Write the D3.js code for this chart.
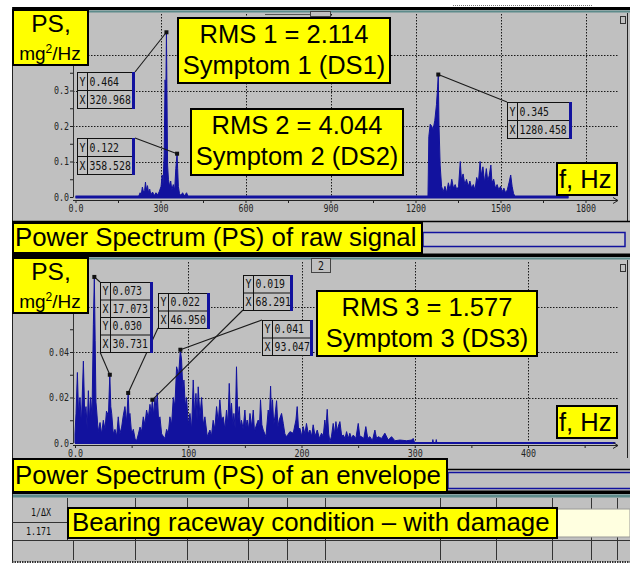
<!DOCTYPE html>
<html>
<head>
<meta charset="utf-8">
<title>Power spectrum</title>
<script src="https://cdn.jsdelivr.net/npm/d3@7"></script>
<style>
  body { margin: 0; background: #fff; }
  svg text { font-family: "Liberation Sans", Arial, sans-serif; }
  svg text.mono { font-family: "DejaVu Sans Mono", monospace; }
</style>
</head>
<body>
<svg id="chart" width="630" height="565"></svg>
<script>
// ---- data ----
// raw signal spectrum (Hz, mg^2/Hz)
var rawFreq = [0, 222, 228, 232, 236, 240, 244, 247, 250, 254,
  258, 262, 266, 272, 278, 284, 290, 296, 302, 306,
  309, 313, 316, 319, 320.968, 322.5, 325, 328, 332, 336,
  340, 345, 350, 354, 356, 358.528, 360.5, 363, 367, 372,
  378, 384, 392, 398, 1244, 1247, 1252, 1257, 1262, 1268,
  1274, 1278, 1280.458, 1283, 1287, 1292, 1298, 1304, 1310, 1316,
  1322, 1328, 1334, 1340, 1346, 1352, 1358, 1362, 1368, 1374,
  1380, 1386, 1392, 1398, 1404, 1410, 1416, 1422, 1428, 1432,
  1438, 1444, 1450, 1455, 1460, 1466, 1470, 1476, 1482, 1488,
  1494, 1500, 1506, 1512, 1518, 1524, 1530, 1536, 1541, 1546,
  1552, 1740];
var rawPS = [0, 0, 0.012, 0.006, 0.028, 0.014, 0.018, 0.042, 0.020, 0.032,
  0.012, 0.022, 0.006, 0.014, 0.004, 0.012, 0.006, 0.016, 0.030, 0.062,
  0.035, 0.120, 0.330, 0.300, 0.464, 0.320, 0.090, 0.050, 0.030, 0.045,
  0.020, 0.035, 0.020, 0.080, 0.100, 0.122, 0.080, 0.030, 0.010, 0.004,
  0.012, 0.003, 0.012, 0, 0, 0.170, 0.205, 0.200, 0.190, 0.215,
  0.260, 0.310, 0.345, 0.200, 0.090, 0.030, 0.015, 0.030, 0.012, 0.040,
  0.020, 0.050, 0.025, 0.035, 0.020, 0.030, 0.100, 0.050, 0.065, 0.035,
  0.050, 0.030, 0.045, 0.025, 0.035, 0.020, 0.055, 0.040, 0.100, 0.060,
  0.085, 0.040, 0.080, 0.045, 0.060, 0.090, 0.040, 0.050, 0.025, 0.035,
  0.020, 0.030, 0.015, 0.025, 0.012, 0.020, 0.040, 0.062, 0.030, 0.010,
  0, 0];

// envelope spectrum (Hz, mg^2/Hz)
var envFreq = [0, 0.9, 2.1, 3.2, 4.4, 5.6, 7.4, 8.6, 9.7, 10.8,
  11.8, 12.8, 13.8, 15, 16.2, 17.073, 17.8, 18.5, 19.1, 20.5,
  22.1, 23.5, 25, 26.5, 27.8, 29.5, 30.731, 31.6, 32.4, 33.8,
  35.3, 36.8, 38.2, 39.6, 41.2, 42.6, 44.1, 45.5, 46.95, 47.8,
  48.5, 50, 51.5, 53, 54.4, 56, 57.4, 58.8, 60.3, 61.7,
  63.2, 64.7, 66.2, 67.3, 68.291, 69.5, 70.6, 71.6, 72.6, 73.8,
  75, 76.5, 77.9, 79.4, 80.9, 82.3, 83.8, 85.3, 86.8, 88.2,
  89.7, 91.5, 93.047, 94.1, 95.2, 96.2, 97.4, 98.5, 100, 101.5,
  103, 104.4, 105.6, 106.8, 107.8, 108.8, 110.3, 111.8, 113.2, 114.7,
  116.8, 119.1, 120.5, 122, 123.5, 125, 126.5, 127.9, 129.4, 130.9,
  132.3, 133.8, 135, 136.2, 137.2, 138.2, 139.3, 140.3, 141.5, 142.6,
  143.8, 145, 146, 147, 148.5, 150, 151, 152, 153.2, 154.5,
  156, 157.4, 158.5, 159.7, 161.8, 162.8, 163.8, 165, 166.2, 168.6,
  170.6, 171.6, 172.7, 173.5, 174.4, 175.5, 176.5, 178, 179.2, 180.3,
  182.4, 183.9, 185.3, 186.8, 189.8, 192.7, 195.1, 196.2, 197.4, 198.6,
  200, 201.5, 203, 204.4, 206, 207.4, 209, 210.3, 212, 213.9,
  215.8, 217.7, 219.2, 220.6, 221.5, 222.7, 224, 225.1, 226.5, 228,
  229.2, 230.4, 231.5, 232.4, 233.9, 235.5, 236.9, 238.4, 239.8, 241.3,
  242.7, 244.2, 245.7, 248, 250.1, 251.5, 253, 255, 256.8, 258.5,
  260.4, 262.6, 264.8, 266.3, 267.8, 270.7, 273.6, 276.6, 279.5, 282.5,
  286.9, 292.8, 297.2, 298.6, 300, 315.5, 316, 316.5, 318.5, 319,
  319.5, 477];
var envPS = [0.004, 0.013, 0.031, 0.012, 0.020, 0.008, 0.036, 0.012, 0.016, 0.006,
  0.023, 0.010, 0.020, 0.012, 0.052, 0.073, 0.045, 0.018, 0.0145, 0.005,
  0.009, 0.004, 0.010, 0.006, 0.014, 0.012, 0.030, 0.016, 0.013, 0.004,
  0.006, 0.003, 0.0115, 0.004, 0.007, 0.012, 0.016, 0.009, 0.022, 0.011,
  0.013, 0.004, 0.006, 0.002, 0.001, 0.004, 0.007, 0.005, 0.0115, 0.008,
  0.0145, 0.011, 0.017, 0.013, 0.019, 0.012, 0.020, 0.014, 0.022, 0.010,
  0.0115, 0.004, 0.003, 0.002, 0.006, 0.004, 0.0115, 0.008, 0.020, 0.016,
  0.0335, 0.030, 0.041, 0.0365, 0.024, 0.0277, 0.016, 0.020, 0.008, 0.013,
  0.006, 0.0277, 0.012, 0.0218, 0.010, 0.0247, 0.012, 0.020, 0.008, 0.0115,
  0.0028, 0.0057, 0.003, 0.010, 0.006, 0.016, 0.009, 0.019, 0.010, 0.0115,
  0.006, 0.0145, 0.008, 0.0262, 0.012, 0.0175, 0.008, 0.013, 0.006, 0.0335,
  0.010, 0.016, 0.007, 0.010, 0.006, 0.0145, 0.007, 0.0101, 0.006, 0.013,
  0.007, 0.0145, 0.005, 0.0072, 0.0101, 0.006, 0.019, 0.008, 0.0057, 0.0028,
  0.0145, 0.010, 0.025, 0.012, 0.019, 0.008, 0.0115, 0.0186, 0.007, 0.0101,
  0.013, 0.0086, 0.004, 0.0028, 0.005, 0.0043, 0.0101, 0.016, 0.006, 0.0065,
  0.003, 0.0072, 0.004, 0.0086, 0.004, 0.0057, 0.003, 0.008, 0.003, 0.0057,
  0.002, 0.0043, 0.003, 0.0101, 0.006, 0.0148, 0.004, 0.0006, 0.003, 0.0086,
  0.004, 0.0094, 0.005, 0.0072, 0.0094, 0.003, 0.0035, 0.002, 0.005, 0.002,
  0.0043, 0.002, 0.0035, 0.002, 0.0086, 0.003, 0.0028, 0.002, 0.0072, 0.002,
  0.0028, 0.001, 0.0057, 0.002, 0.0028, 0.002, 0.0043, 0.0013, 0.0028, 0.001,
  0.0013, 0.001, 0.0013, 0.002, 0, 0, 0.0015, 0, 0, 0.0015,
  0, 0];

// cursor read-outs
var rawPeakF = [320.968, 358.528, 1280.458];
var rawPeakV = [0.464, 0.122, 0.345];
var envPeakF = [17.073, 30.731, 46.950, 68.291, 93.047];
var envPeakV = [0.073, 0.030, 0.022, 0.019, 0.041];

// ticks
var rawXTicks = [0, 150, 300, 450, 600, 750, 900, 1050, 1200, 1350, 1500, 1650, 1800];
var rawXLabels = [0, 300, 600, 900, 1200, 1500, 1800];
var rawYTicks = [0, 0.05, 0.1, 0.15, 0.2, 0.25, 0.3, 0.35];
var rawYLabels = [0, 0.1, 0.2, 0.3];
var rawYGrid = [0.1, 0.2, 0.3, 0.4];
var envXTicks = [0, 50, 100, 150, 200, 250, 300, 350, 400, 450];
var envXLabels = [0, 100, 200, 300, 400];
var envYTicks = [0, 0.01, 0.02, 0.03, 0.04, 0.05];
var envYLabels = [0, 0.02, 0.04];
var envYGrid = [0.02, 0.04, 0.06];

// texts
var rmsText = [["RMS 1 = 2.114", "Symptom 1 (DS1)"],
               ["RMS 2 = 4.044", "Symptom 2 (DS2)"],
               ["RMS 3 = 1.577", "Symptom 3 (DS3)"]];
var captions = ["Power Spectrum (PS) of raw signal",
                "Power Spectrum (PS) of an envelope",
                "Bearing raceway condition \u2013 with damage"];
var tableLabels = ["1/\u0394X", "1.171"];

// ---- drawing ----
var GRAY = "#c0c0c0", TEAL = "#5d8b8b", NAVY = "#12129e", YEL = "#ffff00";
var svg = d3.select("#chart");
var f3 = d3.format(".3f");

function mono(g, x, y, s, anchor, cw, size) {
  return g.append("text").attr("class", "mono")
    .attr("x", x).attr("y", y)
    .attr("text-anchor", anchor || "start")
    .attr("font-size", size || 12)
    .attr("textLength", s.length * (cw || 5.9))
    .attr("lengthAdjust", "spacingAndGlyphs")
    .attr("fill", "#111")
    .text(s);
}

function hline(x1, x2, y, color, w) {
  svg.append("line").attr("x1", x1).attr("x2", x2).attr("y1", y).attr("y2", y)
    .attr("stroke", color).attr("stroke-width", w || 1);
}
function vline(x, y1, y2, color, w) {
  svg.append("line").attr("x1", x).attr("x2", x).attr("y1", y1).attr("y2", y2)
    .attr("stroke", color).attr("stroke-width", w || 1);
}

// window frames
svg.append("rect").attr("x", 12).attr("y", 7).attr("width", 618).attr("height", 555).attr("fill", GRAY);
svg.append("line").attr("x1", 453).attr("x2", 592).attr("y1", 5.5).attr("y2", 5.5)
  .attr("stroke", "#777").attr("stroke-dasharray", "1,1");
svg.append("rect").attr("x", 12).attr("y", 7).attr("width", 618).attr("height", 3).attr("fill", "#000");
hline(13, 630, 11.5, TEAL, 2);
vline(12.5, 7, 562, "#222", 1);
vline(627.5, 13, 221, "#222", 1);
// small tabs / buttons
svg.append("rect").attr("x", 310.5).attr("y", 11.5).attr("width", 20).attr("height", 5).attr("fill", GRAY).attr("stroke", "#444");
hline(265, 310, 14.5, "#555", 1);
svg.append("rect").attr("x", 620.5).attr("y", 16.5).attr("width", 5).attr("height", 7).attr("fill", GRAY).attr("stroke", "#333");
svg.append("rect").attr("x", 620.5).attr("y", 264.5).attr("width", 5).attr("height", 7).attr("fill", GRAY).attr("stroke", "#333");

hline(12, 630, 221.5, "#000", 1.5);
svg.append("rect").attr("x", 423).attr("y", 232.5).attr("width", 202).attr("height", 14)
  .attr("fill", "#c8c8cc").attr("stroke", NAVY).attr("stroke-width", 1.5);
svg.append("rect").attr("x", 12).attr("y", 253.5).attr("width", 618).attr("height", 3.5).attr("fill", "#000");
hline(13, 630, 258.5, TEAL, 2);
vline(627.5, 260, 458, "#222", 1);

svg.append("rect").attr("x", 311.5).attr("y", 258.5).attr("width", 19).attr("height", 14)
  .attr("fill", GRAY).attr("stroke", "#444");
mono(svg, 321, 270, "2", "middle", 6, 12);

hline(447, 630, 469.5, "#000", 1.5);
svg.append("rect").attr("x", 448).attr("y", 472.5).attr("width", 184).attr("height", 16)
  .attr("fill", GRAY).attr("stroke", NAVY).attr("stroke-width", 1.5);
svg.append("rect").attr("x", 12).attr("y", 490.5).attr("width", 618).attr("height", 3.5).attr("fill", "#000");
hline(13, 630, 496, TEAL, 3);

// bottom table
hline(12, 630, 540.5, "#333", 1);
hline(12, 67, 522.5, "#333", 1);
[135, 187, 248, 287, 325, 440, 496, 552, 591, 617].forEach(function (cx) {
  vline(cx + 0.5, 498, 560, "#333", 1);
});
vline(67.5, 498, 540, "#333", 1);
vline(73.5, 540, 560, "#333", 1);
svg.append("line").attr("x1", 12).attr("x2", 630).attr("y1", 562).attr("y2", 562)
  .attr("stroke", "#333").attr("stroke-width", 2).attr("stroke-dasharray", "1.5,1");
mono(svg, 51, 516, tableLabels[0], "end", 5, 11);
mono(svg, 51, 535, tableLabels[1], "end", 5, 11);

// ---- spectrum panels ----
function panel(cfg) {
  var g = svg.append("g");
  var x = cfg.x, y = cfg.y;

  // grid
  g.selectAll(null).data(cfg.yGrid).enter().append("line")
    .attr("x1", cfg.axisX).attr("x2", cfg.gridRight)
    .attr("y1", function (d) { return Math.round(y(d)) + 0.5; })
    .attr("y2", function (d) { return Math.round(y(d)) + 0.5; })
    .attr("stroke", "#1a1a1a").attr("stroke-dasharray", "1.5,1.5");
  g.selectAll(null).data(cfg.xGrid).enter().append("line")
    .attr("x1", function (d) { return Math.round(x(d)) + 0.5; })
    .attr("x2", function (d) { return Math.round(x(d)) + 0.5; })
    .attr("y1", cfg.gridTop).attr("y2", y(0))
    .attr("stroke", "#1a1a1a").attr("stroke-dasharray", "1.5,1.5");

  // spectrum
  var pts = cfg.freq.map(function (f, i) { return [f, cfg.ps[i]]; });
  var area = d3.area()
    .x(function (d) { return x(d[0]); })
    .y0(y(0))
    .y1(function (d) { return y(d[1]); });
  g.append("path").datum(pts).attr("d", area)
    .attr("fill", NAVY).attr("stroke", NAVY).attr("stroke-width", 1).attr("stroke-linejoin", "miter");
  var last = cfg.freq[cfg.freq.length - 1];
  g.append("line").attr("x1", x(0)).attr("x2", x(last))
    .attr("y1", y(0)).attr("y2", y(0))
    .attr("stroke", NAVY).attr("stroke-width", cfg.baseW);

  // x axis
  var xa = g.append("g").attr("transform", "translate(0," + cfg.axisY + ")")
    .call(d3.axisBottom(x).tickValues(cfg.xTicks).tickSize(3).tickPadding(2).tickSizeOuter(0)
      .tickFormat(function (d) {
        return cfg.xLabels.indexOf(d) < 0 ? "" : (d === 0 ? "0.0" : String(d));
      }));
  xa.select(".domain").remove();
  xa.selectAll("line").attr("stroke", "#222");
  g.append("line").attr("x1", cfg.axisX).attr("x2", cfg.axisEnd)
    .attr("y1", cfg.axisY + 0.5).attr("y2", cfg.axisY + 0.5).attr("stroke", "#222");
  g.append("path")
    .attr("d", "M" + (cfg.axisEnd - 5) + "," + (cfg.axisY - 2.5) + "L" + cfg.axisEnd + "," + (cfg.axisY + 0.5) +
      "L" + (cfg.axisEnd - 5) + "," + (cfg.axisY + 3.5))
    .attr("fill", "none").attr("stroke", "#222");

  // y axis
  var ya = g.append("g").attr("transform", "translate(" + cfg.axisX + ",0)")
    .call(d3.axisLeft(y).tickValues(cfg.yTicks).tickSize(3).tickPadding(1).tickSizeOuter(0)
      .tickFormat(function (d) {
        var hit = cfg.yLabels.some(function (l) { return Math.abs(l - d) < 1e-9; });
        return hit ? (d === 0 ? "0.0" : cfg.yFmt(d)) : "";
      }));
  ya.select(".domain").attr("stroke", "#333");
  ya.selectAll("line").attr("stroke", "#222");

  [xa, ya].forEach(function (a) {
    a.selectAll("text")
      .attr("class", "mono")
      .attr("font-size", 10)
      .attr("fill", "#222")
      .each(function () {
        var n = this.textContent.length;
        if (n) d3.select(this).attr("textLength", n * 5).attr("lengthAdjust", "spacingAndGlyphs");
      });
  });
  return g;
}

function infoBox(bx, by, bw, rowH, rows) {
  var g = svg.append("g");
  var h = rowH * rows.length;
  g.append("rect").attr("x", bx + 0.5).attr("y", by + 0.5).attr("width", bw - 3).attr("height", h)
    .attr("fill", GRAY).attr("stroke", "#111");
  g.append("rect").attr("x", bx + bw - 3).attr("y", by).attr("width", 3).attr("height", h + 1).attr("fill", NAVY);
  g.append("line").attr("x1", bx + 10.5).attr("x2", bx + 10.5).attr("y1", by).attr("y2", by + h)
    .attr("stroke", "#111");
  rows.forEach(function (r, i) {
    if (i > 0) {
      g.append("line").attr("x1", bx).attr("x2", bx + bw - 3)
        .attr("y1", by + i * rowH + 0.5).attr("y2", by + i * rowH + 0.5).attr("stroke", "#111");
    }
    var base = by + i * rowH + rowH / 2 + 4.5;
    mono(g, bx + 2.5, base, r[0], "start", 6, 12);
    mono(g, bx + 12.5, base, r[1], "start", 5.9, 12);
  });
}

function leader(x1, y1, x2, y2) {
  svg.append("line").attr("x1", x1).attr("y1", y1).attr("x2", x2).attr("y2", y2)
    .attr("stroke", "#1a1a1a").attr("stroke-width", 1.1);
  svg.append("rect").attr("x", x1 - 2).attr("y", y1 - 2).attr("width", 4).attr("height", 4).attr("fill", "#111");
}

// top panel: raw signal
var xRaw = d3.scaleLinear().domain([0, 1800]).range([75.5, 585.5]);
var yRaw = d3.scaleLinear().domain([0, 0.4]).range([197, 55]);
panel({
  x: xRaw, y: yRaw, freq: rawFreq, ps: rawPS, baseW: 3,
  xTicks: rawXTicks, xLabels: rawXLabels, yTicks: rawYTicks, yLabels: rawYLabels,
  yFmt: d3.format(".1f"), yGrid: rawYGrid, xGrid: rawXLabels.slice(1),
  axisX: 73, axisY: 200, axisEnd: 618, gridRight: 618, gridTop: 14
});

// bottom panel: envelope
var xEnv = d3.scaleLinear().domain([0, 400]).range([75, 528]);
var yEnv = d3.scaleLinear().domain([0, 0.06]).range([443, 306.5]);
panel({
  x: xEnv, y: yEnv, freq: envFreq, ps: envPS, baseW: 2,
  xTicks: envXTicks, xLabels: envXLabels, yTicks: envYTicks, yLabels: envYLabels,
  yFmt: d3.format(".2f"), yGrid: envYGrid, xGrid: envXLabels.slice(1),
  axisX: 73, axisY: 445, axisEnd: 618, gridRight: 618, gridTop: 262
});

// cursor read-outs, raw panel
var rawBoxes = [[77, 72, 58, "tr"], [77, 138, 58, "tr"], [507, 102, 65, "tl"]];
rawBoxes.forEach(function (b, i) {
  var px = xRaw(rawPeakF[i]), py = yRaw(rawPeakV[i]);
  leader(px, py, b[3] === "tr" ? b[0] + b[2] : b[0], b[1]);
  infoBox(b[0], b[1], b[2], 18, [["Y", f3(rawPeakV[i])], ["X", f3(rawPeakF[i])]]);
});

// cursor read-outs, envelope panel
var eP = envPeakF.map(function (f, i) { return [xEnv(f), yEnv(envPeakV[i])]; });
leader(eP[0][0], eP[0][1], 100, 282);
leader(eP[1][0], eP[1][1], 100, 352);
leader(eP[2][0], eP[2][1], 158, 328);
leader(eP[3][0], eP[3][1], 243, 310);
leader(eP[4][0], eP[4][1], 262, 320);
infoBox(100, 282, 53, 17.5, [["Y", f3(envPeakV[0])], ["X", f3(envPeakF[0])],
                             ["Y", f3(envPeakV[1])], ["X", f3(envPeakF[1])]]);
infoBox(158, 293, 52, 17.5, [["Y", f3(envPeakV[2])], ["X", f3(envPeakF[2])]]);
infoBox(243, 275, 50, 17.5, [["Y", f3(envPeakV[3])], ["X", f3(envPeakF[3])]]);
infoBox(262, 320, 51, 17.5, [["Y", f3(envPeakV[4])], ["X", f3(envPeakF[4])]]);

// ---- yellow annotation boxes ----
function yBox(x, y, w, h, fill) {
  svg.append("rect").attr("x", x).attr("y", y).attr("width", w).attr("height", h)
    .attr("fill", fill || YEL).attr("stroke", "#000").attr("stroke-width", 2);
}
function big(x, y, s, anchor, size) {
  return svg.append("text").attr("x", x).attr("y", y).attr("text-anchor", anchor || "start")
    .attr("font-size", size || 25.5).attr("fill", "#000").text(s);
}
function psBox(y) {
  yBox(13, y, 75, 55);
  big(51, y + 22, "PS,", "middle", 24.5);
  var t = svg.append("text").attr("x", 50).attr("y", y + 50).attr("text-anchor", "middle")
    .attr("font-size", 19).attr("fill", "#000");
  t.append("tspan").text("mg");
  t.append("tspan").attr("dy", -7).attr("font-size", 12).text("2");
  t.append("tspan").attr("dy", 7).text("/Hz");
}
psBox(10);
psBox(258);

yBox(178, 18, 212, 65);
big(284, 43, rmsText[0][0], "middle");
big(284, 74, rmsText[0][1], "middle");
yBox(191, 109, 212, 66);
big(297, 134, rmsText[1][0], "middle");
big(297, 165, rmsText[1][1], "middle");
yBox(317, 291, 220, 65);
big(427, 316, rmsText[2][0], "middle");
big(427, 347, rmsText[2][1], "middle");

yBox(557, 163, 60, 32);
big(559, 188, "f, Hz");
yBox(557, 406, 60, 32);
big(559, 431, "f, Hz");

yBox(13, 223, 409, 30);
big(15, 246, captions[0], "start", 25.8);
yBox(13, 459, 434, 33);
big(15, 484, captions[1], "start", 25.8);

svg.append("rect").attr("x", 557).attr("y", 509).attr("width", 73).attr("height", 28)
  .attr("fill", "#ffffe0").attr("stroke", "#999").attr("stroke-width", 1);
yBox(68, 508, 489, 30);
big(72, 531, captions[2], "start", 25.8);
</script>
</body>
</html>
